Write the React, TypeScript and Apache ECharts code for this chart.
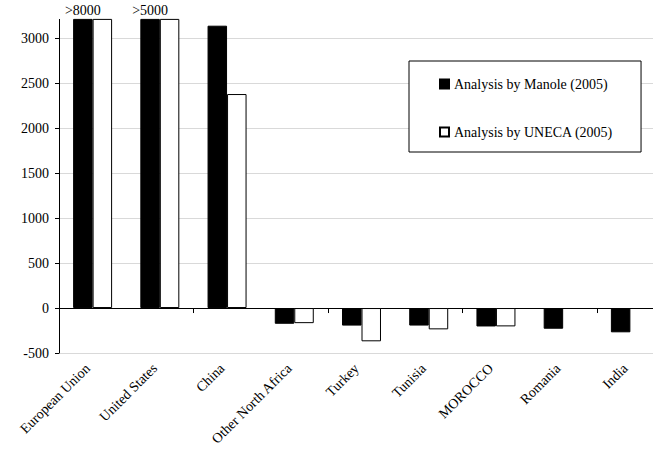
import React, { useEffect, useRef } from "react";
import * as echarts from "echarts";

const categories = [
  "European Union",
  "United States",
  "China",
  "Other North Africa",
  "Turkey",
  "Tunisia",
  "MOROCCO",
  "Romania",
  "India",
];
const manole = [8000, 5000, 3140, -175, -195, -195, -205, -230, -270];
const uneca: (number | null)[] = [8000, 5000, 2380, -168, -370, -237, -204, null, null];
const overflowCats = ["European Union", "United States"];
const overflowLabels = [">8000", ">5000"];
const yMin = -500;
const yMax = 3210;

const FONT = "Liberation Serif";

export default function App() {
  const ref = useRef<HTMLDivElement>(null);
  useEffect(() => {
    if (!ref.current) return;
    const chart = echarts.init(ref.current, null, { renderer: "svg" });
    chart.setOption({
      animation: false,
      backgroundColor: "#fff",
      textStyle: { fontFamily: FONT, color: "#000" },
      grid: { left: 59, right: -11, top: 19.4, bottom: 98, outerBoundsMode: "none", containLabel: false },
      legend: {
        orient: "vertical",
        left: 409,
        top: 61,
        padding: [16, 28, 13, 30],
        itemGap: 34,
        itemWidth: 9,
        itemHeight: 9,
        borderColor: "#000",
        borderWidth: 1,
        backgroundColor: "#fff",
        textStyle: { fontFamily: FONT, fontSize: 14, color: "#000", lineHeight: 14 },
        data: [
          { name: "Analysis by Manole (2005)", icon: "rect" },
          { name: "Analysis by UNECA (2005)", icon: "rect" },
        ],
      },
      xAxis: [
        {
          type: "category",
          data: categories,
          position: "bottom",
          axisLine: { show: false, onZero: false },
          axisTick: { show: false },
          axisLabel: {
            rotate: 45,
            margin: 18,
            verticalAlign: "bottom",
            fontSize: 14,
            fontFamily: FONT,
            color: "#000",
            interval: 0,
          },
        },
        {
          type: "category",
          data: categories,
          position: "bottom",
          axisLine: { show: true, onZero: true, onZeroAxisIndex: 0, lineStyle: { color: "#000", width: 1 } },
          axisTick: { show: true, length: 5, lineStyle: { color: "#000" } },
          axisLabel: { show: false },
        },
      ],
      yAxis: {
        type: "value",
        min: yMin,
        max: yMax,
        interval: 500,
        axisLine: { show: true, lineStyle: { color: "#000" } },
        axisTick: { show: true, length: 4, lineStyle: { color: "#000" } },
        axisLabel: {
          fontSize: 14,
          fontFamily: FONT,
          color: "#000",
          margin: 10,
          showMaxLabel: false,
          formatter: (v: number) => String(v),
        },
        splitLine: { show: true, showMaxLine: false, lineStyle: { color: "#d9d9d9", width: 1 } },
      },
      series: [
        {
          name: "Analysis by Manole (2005)",
          type: "bar",
          xAxisIndex: 0,
          data: manole,
          barGap: "0%",
          barCategoryGap: "42%",
          itemStyle: { color: "#000", borderColor: "#000", borderWidth: 1 },
          markPoint: {
            symbol: "rect",
            symbolSize: 1,
            itemStyle: { color: "transparent" },
            label: {
              show: true,
              position: "top",
              distance: 1,
              fontSize: 14,
              fontFamily: FONT,
              color: "#000",
              formatter: "{b}",
            },
            data: overflowCats.map((c, i) => ({ name: overflowLabels[i], coord: [c, yMax] })),
          },
        },
        {
          name: "Analysis by UNECA (2005)",
          type: "bar",
          xAxisIndex: 0,
          data: uneca,
          barGap: "0%",
          barCategoryGap: "42%",
          itemStyle: { color: "#fff", borderColor: "#000", borderWidth: 1 },
        },
      ],
    });
    return () => chart.dispose();
  }, []);
  return (
    <div
      ref={ref}
      style={{ position: "fixed", left: 0, top: 0, width: 653, height: 451 }}
    />
  );
}
